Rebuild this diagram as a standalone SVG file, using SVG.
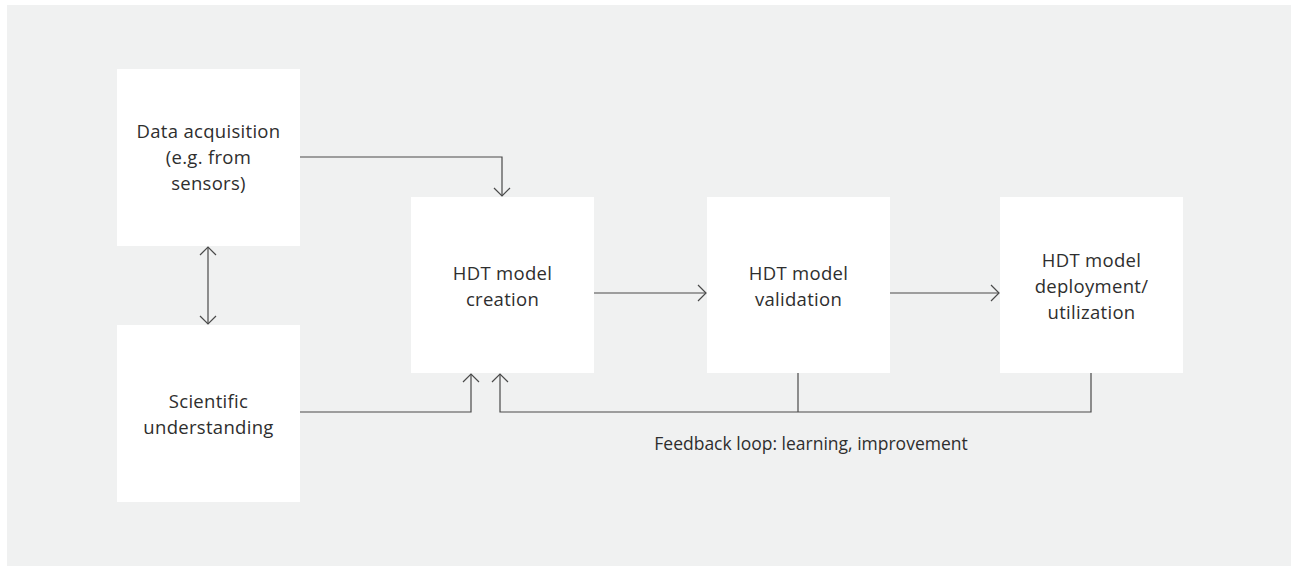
<svg xmlns="http://www.w3.org/2000/svg" width="1291" height="570" viewBox="0 0 1291 570">
<defs>
<style>
.box{fill:#ffffff}
.t{font-family:"Open Sans","Noto Sans","Liberation Sans",sans-serif;font-size:18.5px;letter-spacing:0.3px;fill:#2e2e2e;text-anchor:middle}
.lbl{font-family:"Open Sans","Noto Sans","Liberation Sans",sans-serif;font-size:17.5px;fill:#2e2e2e;text-anchor:middle}
.c{fill:none;stroke:#4a4a4a;stroke-width:1.2}
</style>
<marker id="ah" viewBox="-10 -10 12 20" markerWidth="12" markerHeight="20" refX="0" refY="0" orient="auto-start-reverse" markerUnits="userSpaceOnUse">
<path d="M-8,-8 L0,0 L-8,8" fill="none" stroke="#4a4a4a" stroke-width="1.2"/>
</marker>
</defs>
<rect x="0" y="0" width="1291" height="570" fill="#ffffff"/>
<rect x="7" y="5" width="1284" height="561" fill="#f0f1f1"/>
<g id="data-acquisition">
<rect class="box" x="117" y="69" width="183" height="177"/>
<text class="t" x="208.5" y="138">Data acquisition</text>
<text class="t" x="208.5" y="164">(e.g. from</text>
<text class="t" x="208.5" y="190">sensors)</text>
</g>
<g id="scientific-understanding">
<rect class="box" x="117" y="325" width="183" height="177"/>
<text class="t" x="208.5" y="408">Scientific</text>
<text class="t" x="208.5" y="434">understanding</text>
</g>
<g id="model-creation">
<rect class="box" x="411" y="197" width="183" height="176"/>
<text class="t" x="502.5" y="280">HDT model</text>
<text class="t" x="502.5" y="306">creation</text>
</g>
<g id="model-validation">
<rect class="box" x="707" y="197" width="183" height="176"/>
<text class="t" x="798.5" y="280">HDT model</text>
<text class="t" x="798.5" y="306">validation</text>
</g>
<g id="model-deployment">
<rect class="box" x="1000" y="197" width="183" height="176"/>
<text class="t" x="1091.5" y="267">HDT model</text>
<text class="t" x="1091.5" y="293">deployment/</text>
<text class="t" x="1091.5" y="319">utilization</text>
</g>
<g id="connectors">
<path class="c" d="M300,157 H502 V196" marker-end="url(#ah)"/>
<path class="c" d="M208,247 V324" marker-start="url(#ah)" marker-end="url(#ah)"/>
<path class="c" d="M300,412 H471 V374" marker-end="url(#ah)"/>
<path class="c" d="M1091,373 V412 H500 V374" marker-end="url(#ah)"/>
<path class="c" d="M798,373 V412"/>
<path class="c" d="M594,293 H706" marker-end="url(#ah)"/>
<path class="c" d="M890,293 H999" marker-end="url(#ah)"/>
<text class="lbl" x="811" y="450">Feedback loop: learning, improvement</text>
</g>
</svg>
